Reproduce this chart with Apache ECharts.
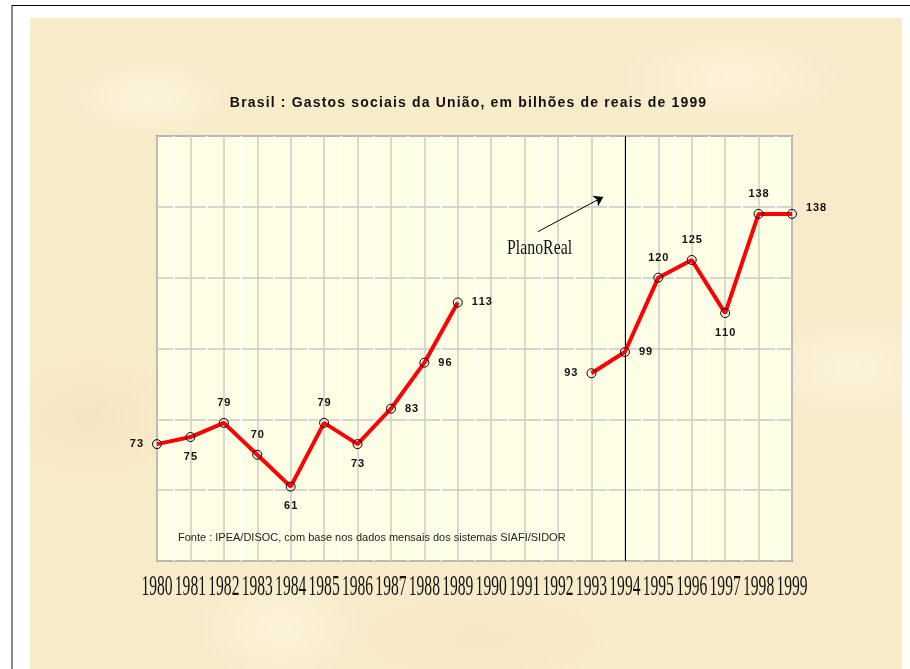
<!DOCTYPE html>
<html>
<head>
<meta charset="utf-8">
<script src="https://cdn.jsdelivr.net/npm/echarts@6/dist/echarts.min.js"></script>
<style>
  body { margin: 0; background: #ffffff; }
  #frame { position: absolute; left: 11px; top: 5px; width: 899px; height: 664px;
    border-top: 1px solid #000; border-left: 2px solid #8a8a8a; }
  #paper { position: absolute; left: 30px; top: 18px; width: 872px; height: 651px;
    background-color: #f8ebca;
    background-image:
      radial-gradient(ellipse 120px 60px at 120px 80px, rgba(255,250,232,0.6), rgba(255,250,232,0) 70%),
      radial-gradient(ellipse 160px 70px at 700px 60px, rgba(255,248,228,0.55), rgba(255,248,228,0) 70%),
      radial-gradient(ellipse 140px 90px at 60px 400px, rgba(240,222,185,0.45), rgba(240,222,185,0) 70%),
      radial-gradient(ellipse 150px 80px at 820px 350px, rgba(255,250,232,0.5), rgba(255,250,232,0) 70%),
      radial-gradient(ellipse 200px 70px at 450px 620px, rgba(243,226,190,0.45), rgba(243,226,190,0) 70%),
      radial-gradient(ellipse 120px 80px at 250px 610px, rgba(255,249,230,0.55), rgba(255,249,230,0) 70%); }
  #main { position: absolute; left: 0; top: 0; width: 910px; height: 669px; }
</style>
</head>
<body>
<div id="frame"></div>
<div id="paper"></div>
<div id="main"></div>
<script>
  // anos e gastos (bilhões de reais de 1999); 1990-1992 sem dado
  var years = [1980, 1981, 1982, 1983, 1984, 1985, 1986, 1987, 1988, 1989,
               1990, 1991, 1992, 1993, 1994, 1995, 1996, 1997, 1998, 1999];
  var gastos = [73, 75, 79, 70, 61, 79, 73, 83, 96, 113,
                null, null, null, 93, 99, 120, 125, 110, 138, 138];
  // posição de cada rótulo, como no original
  var labelPos = ['left', 'bottom', 'top', 'top', 'bottom', 'top', 'bottom', 'right', 'right', 'right',
                  null, null, null, 'left', 'right', 'top', 'top', 'bottom', 'top', 'right'];
  var yTicks = { min: 40, max: 160, step: 20 };
  var planoRealYear = 1994;

  // espaçamento entre letras (hair space)
  function spaced(s) { return String(s).split('').join('\u200A'); }

  var chart = echarts.init(document.getElementById('main'));

  var seriesData = years.map(function (y, i) {
    var lab = { position: labelPos[i] || 'top' };
    if (i === years.length - 1) lab.offset = [0, -6];
    return { value: [y, gastos[i]], label: lab };
  });

  var option = {
    backgroundColor: 'transparent',
    animation: false,
    title: {
      text: spaced('Brasil : Gastos sociais da União, em bilhões de reais de 1999'),
      left: 463,
      top: 91,
      textAlign: 'center',
      textStyle: { fontFamily: 'Liberation Sans, Arial', fontSize: 14, fontWeight: 'bold', color: '#111' }
    },
    grid: { left: 157, right: 118, top: 136, bottom: 108, show: true,
      backgroundColor: '#ffffe6', borderColor: '#868686', borderWidth: 2 },
    xAxis: {
      type: 'value',
      min: 1980, max: 1999, interval: 1,
      axisLine: { show: false },
      axisTick: { show: false },
      axisLabel: { show: false },
      splitLine: { lineStyle: { color: '#cccccc', width: 1.5 } },
      minorSplitLine: { show: true, lineStyle: { color: '#ffffff', width: 1.5 } },
      minorTick: { splitNumber: 2 }
    },
    yAxis: {
      type: 'value',
      min: yTicks.min, max: yTicks.max, interval: yTicks.step,
      axisLine: { show: false },
      axisTick: { show: false },
      axisLabel: { show: false },
      splitLine: { lineStyle: { color: '#c8c8c8', width: 1.5 } }
    },
    series: [
      {
        type: 'line',
        data: seriesData,
        connectNulls: false,
        symbol: 'circle',
        symbolSize: 9,
        lineStyle: { color: '#ff0000', width: 4 },
        itemStyle: { color: 'rgba(255,0,0,0.0)', borderColor: '#000', borderWidth: 1 },
        label: {
          show: true,
          distance: 9,
          fontFamily: 'Liberation Sans, Arial',
          fontSize: 11,
          fontWeight: 'bold',
          color: '#111',
          formatter: function (p) { return spaced(p.value[1]); }
        },
        z: 5,
        markLine: {
          silent: true,
          symbol: 'none',
          label: { show: false },
          lineStyle: { color: '#000', width: 1, type: 'solid' },
          data: [
            { xAxis: planoRealYear },
            [
              { coord: [1991.4, 133], symbol: 'none' },
              { coord: [1993.35, 142.8], symbol: 'arrow', symbolSize: 9 }
            ]
          ]
        }
      }
    ]
  };

  chart.setOption(option);

  // rótulos dos anos: fonte serifada estreita, posicionados pela escala do eixo
  var graphics = years.map(function (y) {
    var px = chart.convertToPixel({ gridIndex: 0 }, [y, yTicks.min]);
    return {
      type: 'text', x: px[0], y: px[1] + 26, scaleX: 0.52,
      style: { text: String(y), x: 0, y: 0, align: 'center', verticalAlign: 'middle',
        fontFamily: 'Liberation Serif', fontSize: 30, fill: '#111' }
    };
  });
  graphics.push({
    type: 'text', x: 507, y: 248, scaleX: 0.72,
    style: { text: 'PlanoReal', x: 0, y: 0, verticalAlign: 'middle',
      fontFamily: 'Liberation Serif', fontSize: 22, fill: '#111' }
  });
  graphics.push({
    type: 'text', left: 178, top: 532,
    style: { text: 'Fonte : IPEA/DISOC, com base nos dados mensais dos sistemas SIAFI/SIDOR',
      fontFamily: 'Liberation Sans, Arial', fontSize: 11, fill: '#222' }
  });
  chart.setOption({ graphic: graphics });
</script>
</body>
</html>
